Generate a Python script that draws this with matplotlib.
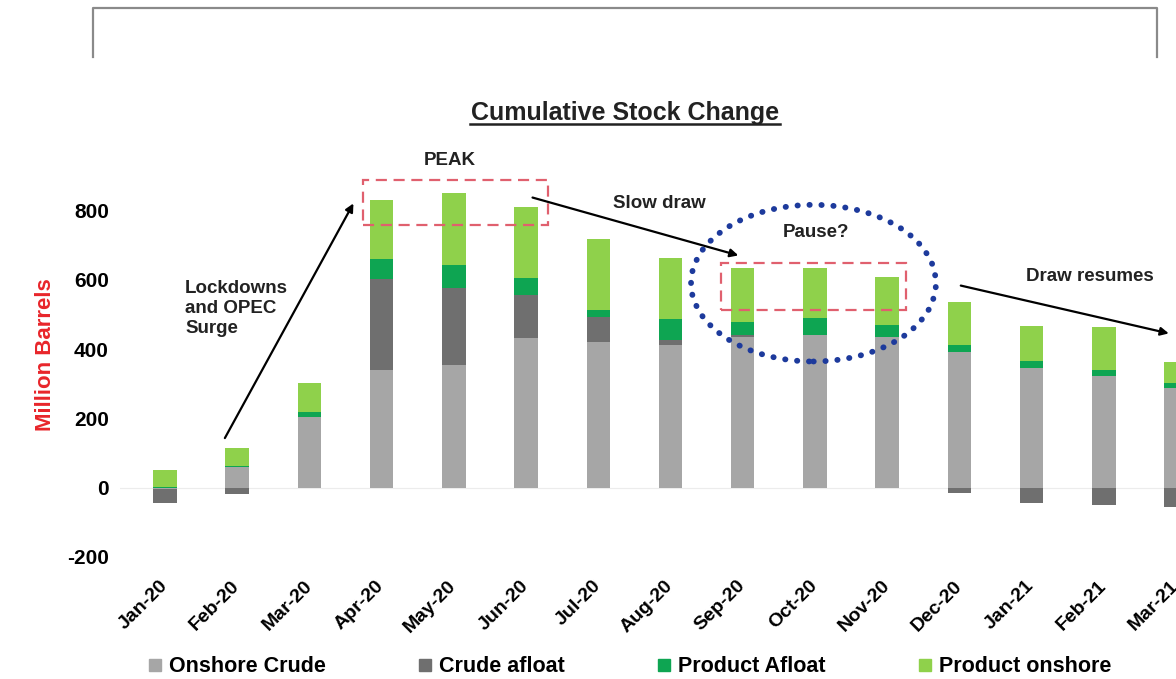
import numpy as np
import matplotlib
matplotlib.use("Agg")
from matplotlib import pyplot as plt
from matplotlib.patches import Ellipse, Rectangle
from matplotlib.lines import Line2D

# cumulative stock change, million barrels
months = ["Jan-20", "Feb-20", "Mar-20", "Apr-20", "May-20", "Jun-20", "Jul-20",
          "Aug-20", "Sep-20", "Oct-20", "Nov-20", "Dec-20", "Jan-21", "Feb-21",
          "Mar-21"]
onshore_crude = [-5, 60, 204, 339, 354, 431, 420, 411, 434, 440, 434, 391, 345, 322, 287]
crude_afloat = [-40, -18, 0, 264, 221, 124, 71, 14, 5, 0, 0, -14, -43, -49, -55]
product_afloat = [2, 3, 14, 58, 66, 51, 21, 61, 40, 49, 34, 20, 20, 17, 15]
product_onshore = [50, 52, 84, 170, 210, 204, 206, 178, 156, 146, 141, 124, 101, 124, 60]

series_names = ["Onshore Crude", "Crude afloat", "Product Afloat", "Product onshore"]
series_colors = ["#a6a6a6", "#6f6f6f", "#0ea552", "#8fd14b"]

y_ticks = [-200, 0, 200, 400, 600, 800]


def main():
    plt.rcParams["font.family"] = ["Liberation Sans", "DejaVu Sans"]
    plt.rcParams["font.weight"] = "bold"

    fig = plt.figure(figsize=(11.76, 6.79), dpi=100)
    ax = fig.add_axes([120 / 1176, 104 / 679, 1056 / 1176, 435 / 679])

    x = np.arange(len(months))
    width = 0.325

    # 1) stacked bars, positives go up from 0 and negatives go down
    pos_bottom = np.zeros(len(months))
    neg_bottom = np.zeros(len(months))
    for vals, name, color in zip(
        [onshore_crude, crude_afloat, product_afloat, product_onshore],
        series_names, series_colors,
    ):
        vals = np.array(vals, dtype=float)
        bottom = np.where(vals >= 0, pos_bottom, neg_bottom)
        ax.bar(x, vals, width, bottom=bottom, color=color, label=name, zorder=2)
        pos_bottom = pos_bottom + np.clip(vals, 0, None)
        neg_bottom = neg_bottom + np.clip(vals, None, 0)

    ax.axhline(0, color="#ececec", lw=0.8, zorder=1)

    # 2) axes look
    ax.set_xlim(-0.622, 13.98)
    ax.set_ylim(-252, 1003)
    for s in ax.spines.values():
        s.set_visible(False)
    ax.set_yticks(y_ticks)
    ax.set_yticklabels([str(v) for v in y_ticks], fontsize=15, fontweight="bold")
    ax.set_xticks(x)
    ax.set_xticklabels(months, fontsize=14, fontweight="bold", rotation=45,
                       ha="right", va="center", rotation_mode="anchor")
    ax.tick_params(axis="both", length=0)
    ax.tick_params(axis="y", pad=8)
    ax.tick_params(axis="x", pad=6)
    ax.set_ylabel("Million Barrels", color="#e8252a", fontsize=16,
                  fontweight="bold")
    ax.yaxis.set_label_coords(-64 / 1056, (575 - 355) / 435)

    # 3) annotations
    txt = dict(fontsize=13.5, fontweight="bold", color="#222222")
    arrow = dict(arrowstyle="-|>", lw=1.6, color="black", mutation_scale=12,
                 shrinkA=0, shrinkB=0)

    ax.text(0.28, 600, "Lockdowns\nand OPEC\nSurge", ha="left", va="top",
            linespacing=1.25, **txt)
    ax.annotate("", xy=(2.61, 820), xytext=(0.83, 143), arrowprops=arrow)

    ax.text(3.94, 944, "PEAK", ha="center", va="center", **txt)
    ax.add_patch(Rectangle((2.74, 759), 5.30 - 2.74, 889 - 759, fill=False,
                           ec="#e0606e", lw=1.6, ls=(0, (5, 3)), zorder=3))

    ax.annotate("", xy=(7.94, 670), xytext=(5.09, 837), arrowprops=arrow)
    ax.text(6.85, 820, "Slow draw", ha="center", va="center", **txt)

    ax.text(9.02, 736, "Pause?", ha="center", va="center", **txt)
    ax.add_patch(Rectangle((7.70, 512), 10.26 - 7.70, 647 - 512, fill=False,
                           ec="#e0606e", lw=1.6, ls=(0, (5, 3)), zorder=3))
    ell = Ellipse((8.98, 590), 3.39, 452, fill=False, ec="#1d3a9c", lw=4.2,
                  ls=(0, (0.05, 2.0)), zorder=4)
    ell.set_capstyle("round")
    ax.add_patch(ell)

    ax.annotate("", xy=(13.90, 445), xytext=(11.02, 583), arrowprops=arrow,
                annotation_clip=False)
    ax.text(12.81, 610, "Draw resumes", ha="center", va="center", **txt)

    # 4) title with underline
    fig.text(625 / 1176, (679 - 120) / 679, "Cumulative Stock Change",
             ha="center", va="baseline", fontsize=18, fontweight="bold",
             color="#222222")
    fig.add_artist(Line2D([470 / 1176, 780 / 1176], [(679 - 124) / 679] * 2,
                          color="#222222", lw=1.8))

    # 5) cropped frame at the top
    fx = [93 / 1176, 93 / 1176, 1157 / 1176, 1157 / 1176]
    fy = [(679 - 57) / 679, (679 - 8) / 679, (679 - 8) / 679, (679 - 57) / 679]
    fig.add_artist(Line2D(fx, fy, color="#8a8a8a", lw=1.6))

    # 6) legend along the bottom
    handles = [Line2D([], [], marker="s", ls="none", color=c, markersize=8)
               for c in series_colors]
    fig.legend(handles, series_names, loc="center", ncol=4,
               bbox_to_anchor=(630 / 1176, 12 / 679), frameon=False,
               prop=dict(size=15.5, weight="bold"), handlelength=0.6,
               handletextpad=0.35, columnspacing=4.3)

    fig.savefig("out.png", dpi=100)


if __name__ == "__main__":
    main()
